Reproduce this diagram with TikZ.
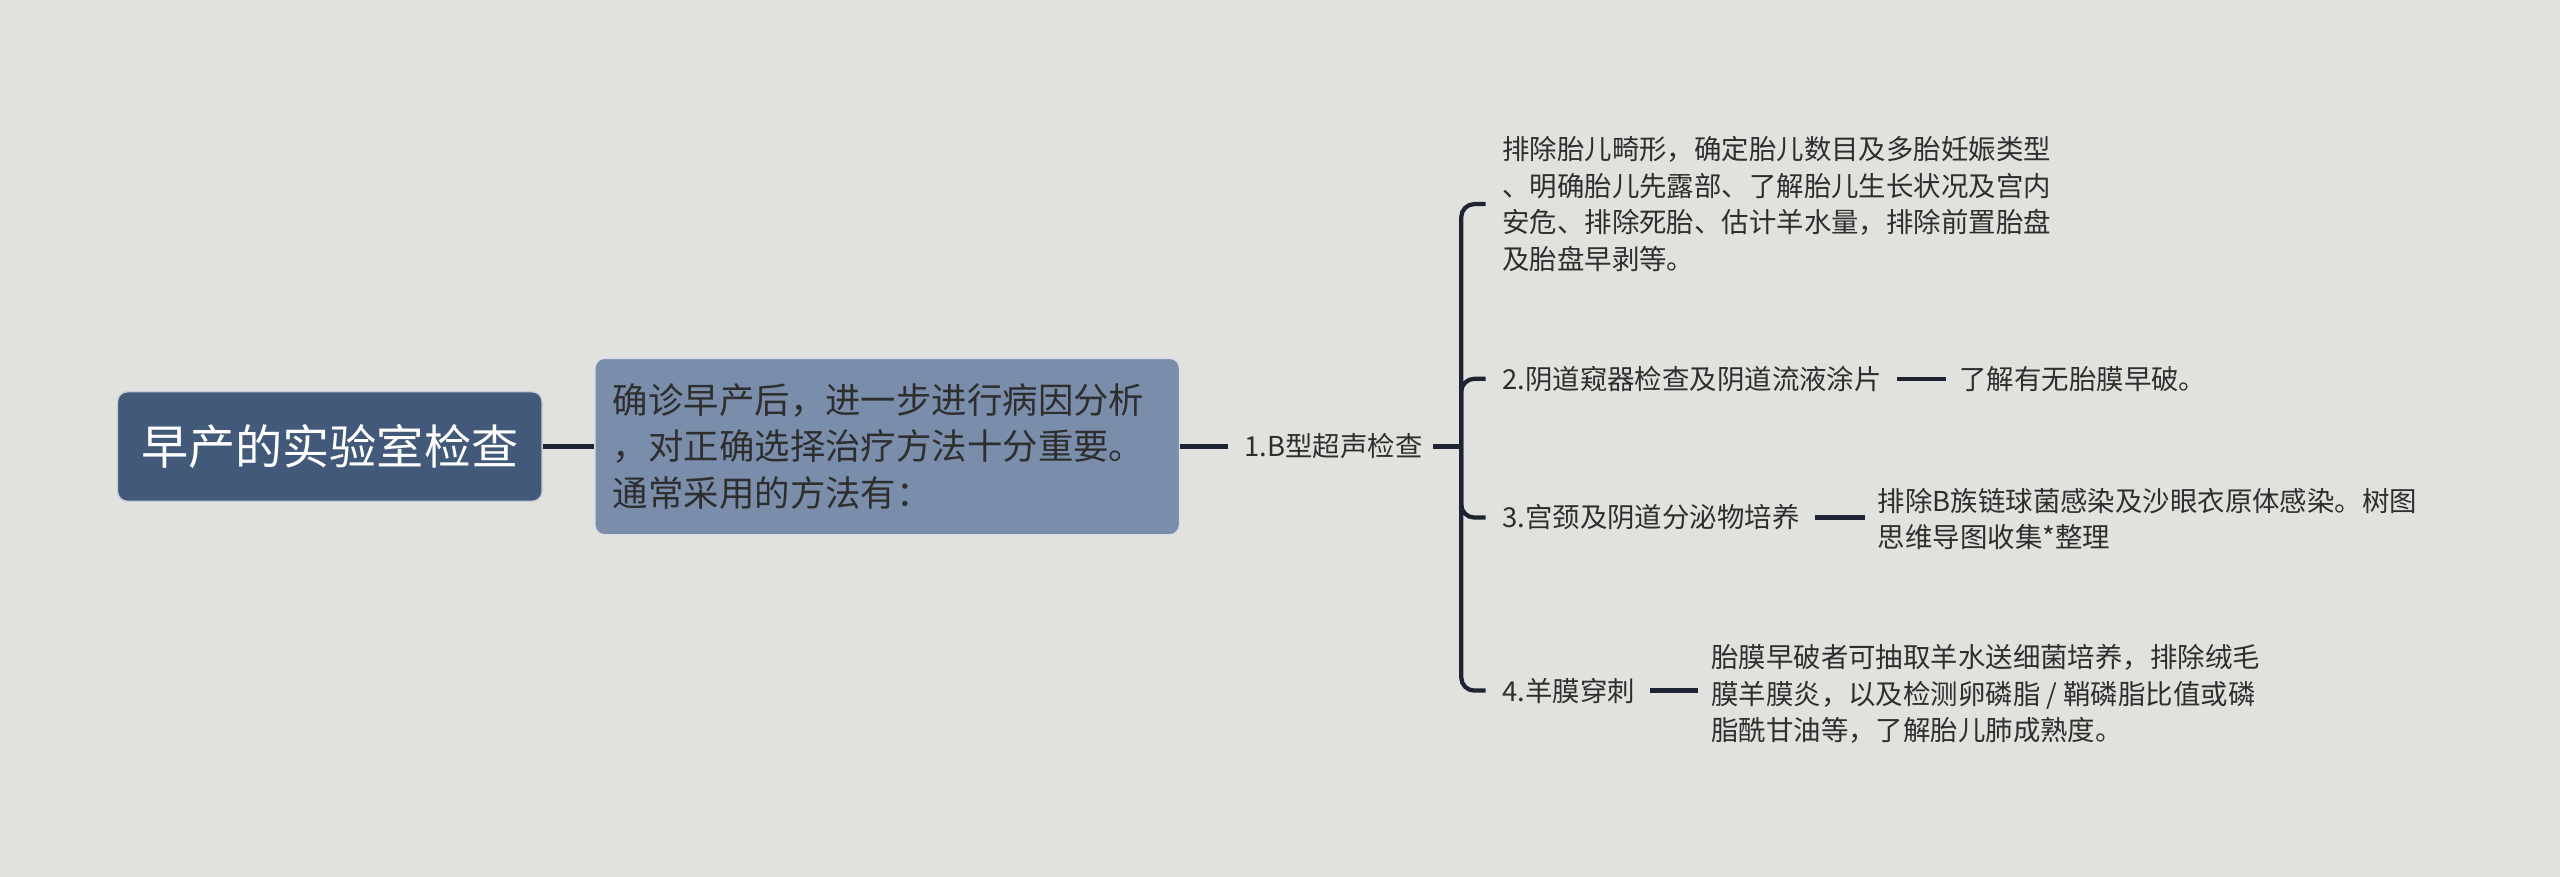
\documentclass[tikz,border=0pt]{standalone}
\usepackage{fontspec}
\setmainfont{Noto Sans CJK SC}
\definecolor{bg}{HTML}{E1E2DE}
\definecolor{rootblue}{HTML}{42597A}
\definecolor{descblue}{HTML}{7A8DAA}
\definecolor{linkcol}{HTML}{1E2433}
\definecolor{txt}{HTML}{2E2E2E}
\newcommand{\lw}{2.6pt}
\newcommand{\leaffont}{\fontsize{16.8}{22.3}\selectfont}

\begin{document}
\begin{tikzpicture}[x=1pt,y=-1pt,
	link/.style={draw=linkcol,line width=\lw},
	rootbox/.style={fill=rootblue,draw=white!70!rootblue,line width=0.8pt,rounded corners=6pt,
		minimum width=260pt,minimum height=67pt,text=white,font=\fontsize{28.9}{34}\selectfont},
	descbox/.style={fill=descblue,draw=white!70!descblue,line width=0.8pt,rounded corners=6pt,
		minimum height=108pt,text width=336pt,inner xsep=11pt,align=left,text=txt,
		font=\fontsize{21.7}{28.5}\selectfont},
	leaf/.style={inner sep=0pt,align=left,text=txt,font=\leaffont}]
	%page
	\fill[bg] (0,0) rectangle (1568,537);
	\useasboundingbox (0,0) rectangle (1568,537);

	%main nodes
	\node[rootbox] (root) at (202,273.5) {早产的实验室检查};
	\node[descbox,anchor=west] (desc) at (364,273.5) {确诊早产后，进一步进行病因分析\\，对正确选择治疗方法十分重要。\\通常采用的方法有：};
	\node[leaf,anchor=west] (b1) at (762,273.5) {1.B型超声检查};
	\coordinate (hub) at (895,273.5);

	%children of b1
	\node[leaf,anchor=west] (c1) at (920,125) {排除胎儿畸形，确定胎儿数目及多胎妊娠类型\\、明确胎儿先露部、了解胎儿生长状况及宫内\\安危、排除死胎、估计羊水量，排除前置胎盘\\及胎盘早剥等。};
	\node[leaf,anchor=west] (c2) at (920,232) {2.阴道窥器检查及阴道流液涂片};
	\node[leaf,anchor=west] (c3) at (920,317) {3.宫颈及阴道分泌物培养};
	\node[leaf,anchor=west] (c4) at (920,423) {4.羊膜穿刺};

	%leaves
	\node[leaf,anchor=west] (d2) at (1200,232) {了解有无胎膜早破。};
	\node[leaf,anchor=west] (d3) at (1150,318) {排除B族链球菌感染及沙眼衣原体感染。树图\\思维导图收集*整理};
	\node[leaf,anchor=west] (d4) at (1048,425) {胎膜早破者可抽取羊水送细菌培养，排除绒毛\\膜羊膜炎，以及检测卵磷脂 / 鞘磷脂比值或磷\\脂酰甘油等，了解胎儿肺成熟度。};

	%draw edges
	\draw[link] (root.east) -- (root.east -| desc.west);
	\draw[link,shorten >=10pt] (desc.east) -- (desc.east -| b1.west);
	\draw[link,shorten <=6pt] (b1.east) -- (b1.east -| hub);
	\foreach \c in {c1,c2,c3,c4} {
		\draw[link,rounded corners=8pt] (hub) |- ([xshift=-10pt]\c.west);
	}
	%draw other edges
	\foreach \a/\b in {c2/d2,c3/d3,c4/d4} {
		\draw[link,shorten <=9pt,shorten >=8pt] (\a.east) -- (\a.east -| \b.west);
	}
\end{tikzpicture}
\end{document}
